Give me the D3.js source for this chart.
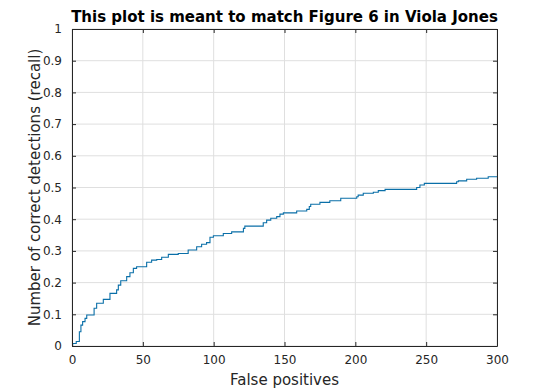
<!DOCTYPE html>
<html>
<head>
<meta charset="utf-8">
<script src="https://cdn.jsdelivr.net/npm/d3@7"></script>
<style>
  body { margin: 0; background: #fff; }
  svg { font-family: 'DejaVu Sans', sans-serif; }
</style>
</head>
<body>
<svg id="chart" width="550" height="390"></svg>
<script>
// false positives (x) and recall (y) of the stairs curve
const falsePositives = [0, 0.5, 3, 5.2, 6.3, 7.5, 9.2, 10.4, 15.6, 17.4, 22.1, 26.8, 31.5, 32.7, 34.4,
  38.6, 40.9, 43.3, 45.6, 52.7, 56.2, 59.8, 63.3, 68, 75, 82, 88, 91.5, 95, 97.4, 99.8, 106.8,
  112.7, 121, 122, 135, 137.4, 140.3, 144.5, 146.8, 149.2, 158.6, 165.7, 167.5, 168.5, 175, 182,
  189.7, 201, 202, 205.6, 212.7, 216.2, 221, 243.3, 245.6, 248.7, 271.5, 272.7, 278.6, 285.6,
  293.8, 300];
const recall = [0, 0.008, 0.014, 0.045, 0.066, 0.077, 0.087, 0.098, 0.119, 0.135, 0.147, 0.166, 0.177, 0.192, 0.206,
  0.219, 0.231, 0.245, 0.25, 0.264, 0.271, 0.273, 0.28, 0.289, 0.292, 0.303, 0.313, 0.321, 0.326, 0.343, 0.348, 0.355,
  0.36, 0.371, 0.378, 0.389, 0.397, 0.403, 0.408, 0.416, 0.42, 0.426, 0.431, 0.44, 0.447, 0.453, 0.458,
  0.466, 0.471, 0.476, 0.482, 0.485, 0.49, 0.494, 0.5, 0.508, 0.513, 0.518, 0.521, 0.526, 0.529,
  0.534, 0.534];

const xTicks = [0, 50, 100, 150, 200, 250, 300];
const yTicks = [0, 0.1, 0.2, 0.3, 0.4, 0.5, 0.6, 0.7, 0.8, 0.9, 1];

const titleText = 'This plot is meant to match Figure 6 in Viola Jones';
const xLabel = 'False positives';
const yLabel = 'Number of correct detections (recall)';

const margin = {left: 72, right: 53, top: 29, bottom: 44};
const width = 550 - margin.left - margin.right;
const height = 390 - margin.top - margin.bottom;
const axisColor = '#262626';
const tickLen = 4;

const svg = d3.select('#chart');
const g = svg.append('g')
  .attr('transform', `translate(${margin.left},${margin.top})`);

const sx = d3.scaleLinear().domain([0, 300]).range([0, width]);
const sy = d3.scaleLinear().domain([0, 1]).range([height, 0]);

// grid
g.append('g')
  .selectAll('line')
  .data(xTicks)
  .join('line')
  .attr('x1', d => sx(d)).attr('x2', d => sx(d))
  .attr('y1', 0).attr('y2', height)
  .style('stroke', '#dfdfdf');
g.append('g')
  .selectAll('line')
  .data(yTicks)
  .join('line')
  .attr('x1', 0).attr('x2', width)
  .attr('y1', d => sy(d)).attr('y2', d => sy(d))
  .style('stroke', '#dfdfdf');

// curve
const pts = falsePositives.map((d, i) => [d, recall[i]]);
const line = d3.line()
  .x(d => sx(d[0]))
  .y(d => sy(d[1]))
  .curve(d3.curveStepAfter);
g.append('path')
  .datum(pts)
  .attr('d', line)
  .style('fill', 'none')
  .style('stroke', '#0a6fa8')
  .style('stroke-width', 1.1);

// axes (ticks inward, box on)
const xAxis = d3.axisBottom(sx).tickValues(xTicks).tickSizeInner(-tickLen).tickSizeOuter(0).tickPadding(9);
const yAxis = d3.axisLeft(sy).tickValues(yTicks).tickSizeInner(-tickLen).tickSizeOuter(0).tickPadding(9)
  .tickFormat(d3.format('~g'));
const xTop = d3.axisTop(sx).tickValues(xTicks).tickSizeInner(-tickLen).tickSizeOuter(0).tickFormat('');
const yRight = d3.axisRight(sy).tickValues(yTicks).tickSizeInner(-tickLen).tickSizeOuter(0).tickFormat('');

g.append('g').attr('class', 'x axis').attr('transform', `translate(0,${height})`).call(xAxis);
g.append('g').attr('class', 'y axis').call(yAxis);
g.append('g').attr('class', 'x2 axis').call(xTop);
g.append('g').attr('class', 'y2 axis').attr('transform', `translate(${width},0)`).call(yRight);

svg.selectAll('.axis path, .axis line').style('stroke', axisColor).style('stroke-width', 1);
svg.selectAll('.axis text')
  .style('fill', axisColor)
  .style('font-size', '12px')
  .style('font-family', "'DejaVu Sans', sans-serif");
svg.selectAll('.y.axis text').attr('dx', '-1');

// labels
svg.append('text')
  .attr('x', margin.left + width / 2)
  .attr('y', 22)
  .attr('text-anchor', 'middle')
  .style('font-weight', 'bold')
  .style('font-size', '15px')
  .style('fill', '#000')
  .text(titleText);

svg.append('text')
  .attr('x', margin.left + width / 2)
  .attr('y', 385)
  .attr('text-anchor', 'middle')
  .style('font-size', '15px')
  .style('fill', axisColor)
  .text(xLabel);

svg.append('text')
  .attr('transform', `translate(40,${margin.top + height / 2}) rotate(-90)`)
  .attr('text-anchor', 'middle')
  .style('font-size', '15px')
  .style('fill', axisColor)
  .text(yLabel);
</script>
</body>
</html>
